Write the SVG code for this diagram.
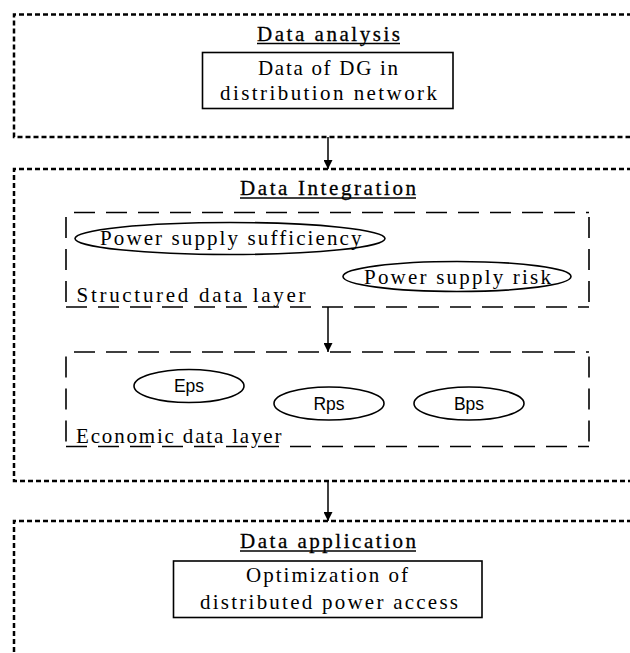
<svg xmlns="http://www.w3.org/2000/svg" width="630" height="653" viewBox="0 0 630 653">
  <style>
    .frame { fill: none; stroke: #000; stroke-width: 2.5; stroke-dasharray: 5 3; }
    .layer { fill: none; stroke: #000; stroke-width: 1.6; stroke-dasharray: 21 11; }
    .box { fill: #fff; stroke: #000; stroke-width: 1.6; }
    .ell { fill: #fff; stroke: #000; stroke-width: 1.6; }
    .t { font-family: "Liberation Serif", "Times New Roman", serif; font-size: 21px; fill: #000; }
    .h { font-family: "Liberation Serif", "Times New Roman", serif; font-size: 21px; fill: #000; stroke: #000; stroke-width: 0.3; }
    .s { font-family: "Liberation Sans", Arial, sans-serif; font-size: 17.5px; fill: #000; }
    .ul { stroke: #000; stroke-width: 1.3; }
    .conn { stroke: #000; stroke-width: 1.5; fill: none; }
  </style>
  <defs>
    <marker id="arrow" viewBox="0 0 10 10" refX="10" refY="5" markerWidth="9" markerHeight="9" markerUnits="userSpaceOnUse" orient="auto">
      <path d="M0,0 L10,5 L0,10 z" fill="#000"/>
    </marker>
  </defs>
  <rect width="630" height="653" fill="#fff"/>

  <g id="data-analysis">
    <path class="frame" d="M640 14.5 H14 V137 H640"/>
    <text class="h" x="257" y="40.7" textLength="143" lengthAdjust="spacing">Data analysis</text>
    <line class="ul" x1="257" y1="43.5" x2="400" y2="43.5"/>
  </g>

  <g id="dg-data">
    <rect class="box" x="202.5" y="52.5" width="250.5" height="56"/>
    <text class="t" x="258" y="74.5" textLength="140" lengthAdjust="spacing">Data of DG in</text>
    <text class="t" x="220" y="100" textLength="217" lengthAdjust="spacing">distribution network</text>
  </g>

  <g id="data-integration">
    <path class="frame" d="M640 169 H14 V481 H640"/>
    <text class="h" x="240" y="195" textLength="176" lengthAdjust="spacing">Data Integration</text>
    <line class="ul" x1="240" y1="198" x2="416" y2="198"/>
  </g>

  <g id="structured-layer">
    <path class="layer" d="M74 212.5 H589 M589 217 V307 M66 307 H589 M66 217 V307"/>
    <text class="t" x="76.5" y="301.5" textLength="229" lengthAdjust="spacing">Structured data layer</text>
  </g>

  <g id="power-supply-sufficiency">
    <ellipse class="ell" cx="230" cy="238.5" rx="155" ry="16"/>
    <text class="t" x="100" y="245" textLength="261.5" lengthAdjust="spacing">Power supply sufficiency</text>
  </g>

  <g id="power-supply-risk">
    <ellipse class="ell" cx="457" cy="276.5" rx="114" ry="15"/>
    <text class="t" x="364" y="283.5" textLength="187" lengthAdjust="spacing">Power supply risk</text>
  </g>

  <g id="economic-layer">
    <path class="layer" d="M74 352 H589 M589 356.5 V446.5 M66 446.5 H589 M66 356.5 V446.5"/>
    <text class="t" x="76" y="442.5" textLength="205.5" lengthAdjust="spacing">Economic data layer</text>
  </g>

  <g id="eps">
    <ellipse class="ell" cx="189" cy="386" rx="55" ry="16.5"/>
    <text class="s" text-anchor="middle" x="189" y="392">Eps</text>
  </g>
  <g id="rps">
    <ellipse class="ell" cx="329" cy="403.5" rx="55" ry="16.5"/>
    <text class="s" text-anchor="middle" x="329" y="409.5">Rps</text>
  </g>
  <g id="bps">
    <ellipse class="ell" cx="469" cy="403.5" rx="55" ry="16.5"/>
    <text class="s" text-anchor="middle" x="469" y="409.5">Bps</text>
  </g>

  <g id="data-application">
    <path class="frame" d="M640 521 H14 V660"/>
    <text class="h" x="240" y="548.3" textLength="176" lengthAdjust="spacing">Data application</text>
    <line class="ul" x1="240" y1="551" x2="416" y2="551"/>
  </g>

  <g id="optimization">
    <rect class="box" x="173.5" y="561" width="308.5" height="56.5"/>
    <text class="t" x="246" y="582" textLength="162" lengthAdjust="spacing">Optimization of</text>
    <text class="t" x="200" y="608.5" textLength="258" lengthAdjust="spacing">distributed power access</text>
  </g>

  <g id="connectors">
    <line class="conn" x1="328" y1="137" x2="328" y2="169" marker-end="url(#arrow)"/>
    <line class="conn" x1="328" y1="307" x2="328" y2="352" marker-end="url(#arrow)"/>
    <line class="conn" x1="328" y1="481" x2="328" y2="521" marker-end="url(#arrow)"/>
  </g>
</svg>
